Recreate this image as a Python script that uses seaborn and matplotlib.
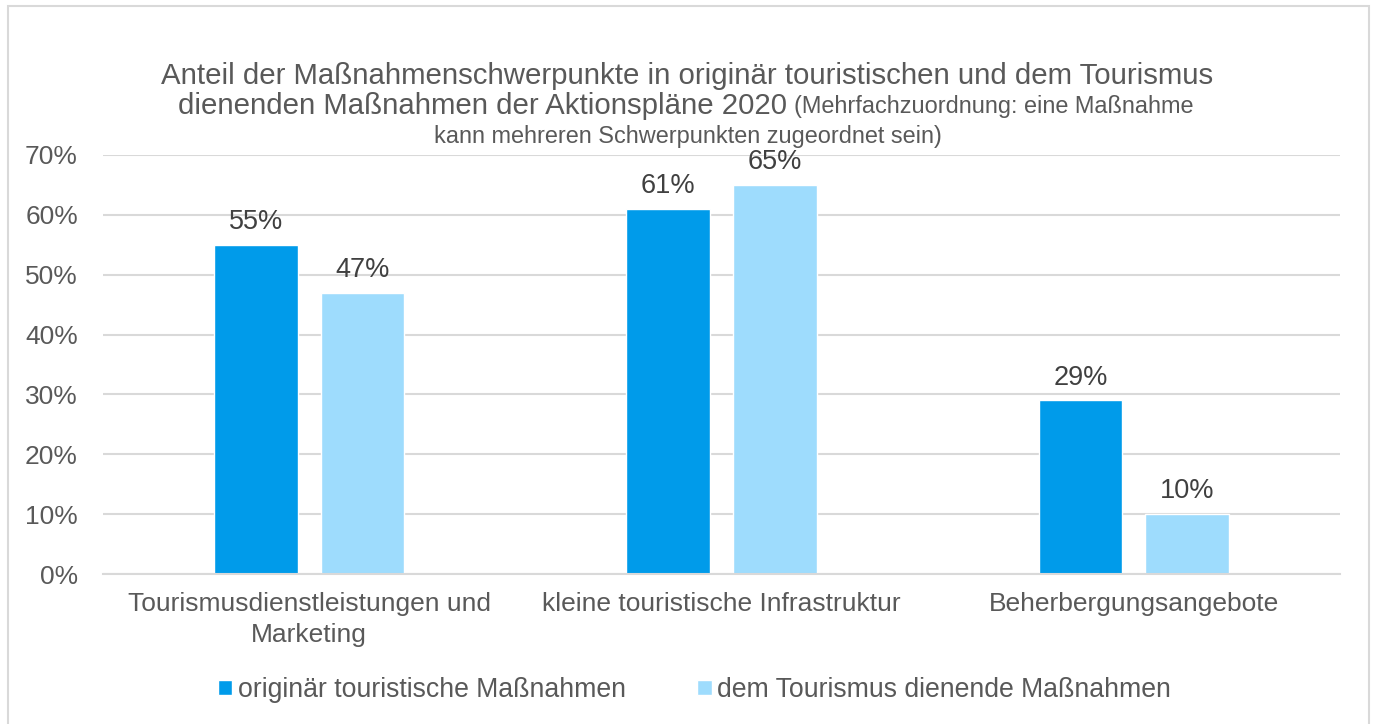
import matplotlib
matplotlib.use("Agg")
import matplotlib.pyplot as plt
from matplotlib.patches import Rectangle
from matplotlib.ticker import FuncFormatter, MultipleLocator
import seaborn as sns
import pandas as pd

# Daten
categories = ["Tourismusdienstleistungen und\nMarketing",
              "kleine touristische Infrastruktur",
              "Beherbergungsangebote"]
series = ["originär touristische Maßnahmen", "dem Tourismus dienende Maßnahmen"]
originaer = [55, 61, 29]
dienend = [47, 65, 10]

COLORS = {
    "dark": "#009BEA",
    "light": "#9EDCFD",
    "text": "#595959",
    "label": "#404040",
    "grid": "#D9D9D9",
}

df = pd.DataFrame({
    "Kategorie": categories * 2,
    "Serie": [series[0]] * 3 + [series[1]] * 3,
    "Wert": originaer + dienend,
})

sns.set_theme(style="white")
plt.rcParams.update({
    "font.family": ["Liberation Sans", "DejaVu Sans"],
    "text.color": COLORS["text"],
    "axes.labelcolor": COLORS["text"],
    "xtick.color": COLORS["text"],
    "ytick.color": COLORS["text"],
})

fig = plt.figure(figsize=(13.75, 7.24), dpi=100)
ax = fig.add_axes([103 / 1375, 1 - 574 / 724, (1340 - 103) / 1375, (574 - 155) / 724])

sns.barplot(data=df, x="Kategorie", y="Wert", hue="Serie",
            palette=[COLORS["dark"], COLORS["light"]],
            width=0.518, gap=0.216, saturation=1, ax=ax, legend=True)

for cont in ax.containers:
    ax.bar_label(cont, fmt="%d%%", padding=7, fontsize=19.5, color=COLORS["label"])

ax.set_ylim(0, 70)
ax.set_xlim(-0.5, 2.5)
ax.yaxis.set_major_locator(MultipleLocator(10))
ax.yaxis.set_major_formatter(FuncFormatter(lambda v, p: f"{int(v)}%"))
ax.grid(True, axis="y", color=COLORS["grid"], linewidth=1.5)
ax.set_axisbelow(True)
for s in ["top", "right", "left"]:
    ax.spines[s].set_visible(False)
ax.spines["bottom"].set_color(COLORS["grid"])
ax.spines["bottom"].set_linewidth(1.5)
ax.set_xlabel("")
ax.set_ylabel("")
ax.tick_params(axis="y", labelsize=19, length=0, pad=18)
ax.tick_params(axis="x", labelsize=19, length=0, pad=13)
for t in ax.get_xticklabels():
    t.set_linespacing(1.35)

# Legende
handles, labels = ax.get_legend_handles_labels()
ax.get_legend().remove()
fig.legend(handles, labels, loc="center", bbox_to_anchor=(0.5051, 1 - 690 / 724),
           ncol=2, frameon=False, fontsize=19.2, handlelength=0.55, handleheight=0.5,
           handletextpad=0.22, columnspacing=2.65, labelcolor=COLORS["text"])

# Titel
fig.text(0.5, 1 - 76 / 724,
         "Anteil der Maßnahmenschwerpunkte in originär touristischen und dem Tourismus",
         ha="center", va="center", fontsize=21.2, color=COLORS["text"])
fig.text(787 / 1375, 1 - 106 / 724, "dienenden Maßnahmen der Aktionspläne 2020",
         ha="right", va="center", fontsize=21.2, color=COLORS["text"])
fig.text(794 / 1375, 1 - 107 / 724, "(Mehrfachzuordnung: eine Maßnahme",
         ha="left", va="center", fontsize=16.9, color=COLORS["text"])
fig.text(0.5, 1 - 136 / 724, "kann mehreren Schwerpunkten zugeordnet sein)",
         ha="center", va="center", fontsize=16.9, color=COLORS["text"])

# Rahmen
fig.add_artist(Rectangle((8 / 1375, -0.02), (1369 - 8) / 1375, 1.02 - 6 / 724,
                         transform=fig.transFigure, fill=False,
                         edgecolor=COLORS["grid"], linewidth=1.5))

fig.savefig("out.png", dpi=100, facecolor="white")
